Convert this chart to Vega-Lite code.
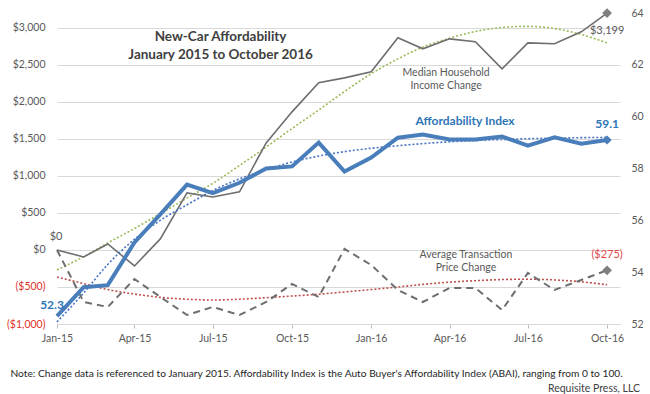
{
  "$schema": "https://vega.github.io/schema/vega-lite/v6.json",
  "width": 563,
  "height": 311,
  "autosize": {"type": "none"},
  "padding": {"left": 57, "top": 13, "right": 30, "bottom": 70},
  "background": "white",
  "config": {"view": {"stroke": null}, "font": "Lato", "text": {"font": "Lato"}},
  "title": {"text": "Requisite Press, LLC", "orient": "bottom", "anchor": "end", "frame": "group", "font": "Lato", "fontSize": 10.5, "fontWeight": "normal", "color": "#404040", "dx": 20, "offset": 6},
  "datasets": {
    "main": [
      {"date": "2015/01/01", "abai": 52.3, "income": 0, "atp": 0, "abai_trend": 52.08, "income_trend": -270, "atp_trend": -365},
      {"date": "2015/02/01", "abai": 53.42, "income": -95, "atp": -703, "abai_trend": 53.2, "income_trend": -90, "atp_trend": -455},
      {"date": "2015/03/01", "abai": 53.5, "income": 81, "atp": -770, "abai_trend": 54.3, "income_trend": 95, "atp_trend": -535},
      {"date": "2015/04/01", "abai": 55.15, "income": -216, "atp": -392, "abai_trend": 55.27, "income_trend": 290, "atp_trend": -595},
      {"date": "2015/05/01", "abai": 56.23, "income": 149, "atp": -635, "abai_trend": 56.0, "income_trend": 490, "atp_trend": -640},
      {"date": "2015/06/01", "abai": 57.38, "income": 770, "atp": -878, "abai_trend": 56.6, "income_trend": 700, "atp_trend": -665},
      {"date": "2015/07/01", "abai": 57.05, "income": 716, "atp": -770, "abai_trend": 57.15, "income_trend": 900, "atp_trend": -676},
      {"date": "2015/08/01", "abai": 57.45, "income": 784, "atp": -878, "abai_trend": 57.6, "income_trend": 1140, "atp_trend": -665},
      {"date": "2015/09/01", "abai": 58.0, "income": 1446, "atp": -703, "abai_trend": 57.95, "income_trend": 1390, "atp_trend": -645},
      {"date": "2015/10/01", "abai": 58.08, "income": 1865, "atp": -459, "abai_trend": 58.25, "income_trend": 1640, "atp_trend": -622},
      {"date": "2015/11/01", "abai": 59.0, "income": 2257, "atp": -635, "abai_trend": 58.48, "income_trend": 1890, "atp_trend": -598},
      {"date": "2015/12/01", "abai": 57.88, "income": 2324, "atp": 14, "abai_trend": 58.65, "income_trend": 2140, "atp_trend": -567},
      {"date": "2016/01/01", "abai": 58.42, "income": 2405, "atp": -203, "abai_trend": 58.78, "income_trend": 2380, "atp_trend": -535},
      {"date": "2016/02/01", "abai": 59.19, "income": 2865, "atp": -540, "abai_trend": 58.88, "income_trend": 2580, "atp_trend": -500},
      {"date": "2016/03/01", "abai": 59.31, "income": 2716, "atp": -703, "abai_trend": 58.96, "income_trend": 2740, "atp_trend": -465},
      {"date": "2016/04/01", "abai": 59.12, "income": 2851, "atp": -514, "abai_trend": 59.03, "income_trend": 2860, "atp_trend": -435},
      {"date": "2016/05/01", "abai": 59.12, "income": 2811, "atp": -514, "abai_trend": 59.08, "income_trend": 2950, "atp_trend": -415},
      {"date": "2016/06/01", "abai": 59.23, "income": 2446, "atp": -811, "abai_trend": 59.12, "income_trend": 3005, "atp_trend": -400},
      {"date": "2016/07/01", "abai": 58.88, "income": 2797, "atp": -311, "abai_trend": 59.15, "income_trend": 3020, "atp_trend": -395},
      {"date": "2016/08/01", "abai": 59.2, "income": 2784, "atp": -540, "abai_trend": 59.17, "income_trend": 2990, "atp_trend": -405},
      {"date": "2016/09/01", "abai": 58.96, "income": 2946, "atp": -405, "abai_trend": 59.19, "income_trend": 2910, "atp_trend": -430},
      {"date": "2016/10/01", "abai": 59.1, "income": 3199, "atp": -275, "abai_trend": 59.2, "income_trend": 2797, "atp_trend": -470}
    ]
  },
  "data": {"name": "main"},
  "encoding": {
    "x": {
      "field": "date", "type": "temporal",
      "scale": {"domain": [{"year": 2015, "month": 1, "date": 1}, {"year": 2016, "month": 10, "date": 16}]},
      "axis": {
        "format": "%b-%y", "tickCount": {"interval": "month", "step": 3}, "grid": false,
        "domainColor": "#D9D9D9", "tickColor": "#BFBFBF", "tickSize": 4, "labelFlush": false, "labelOverlap": false,
        "labelColor": "#595959", "labelFont": "Lato", "labelFontSize": 10.5, "labelPadding": 5,
        "title": "Note: Change data is referenced to January 2015. Affordability Index is the Auto Buyer's Affordability Index (ABAI), ranging from 0 to 100.",
        "titleX": -47, "titleY": 49, "titleAnchor": "start", "titleAlign": "left", "titleBaseline": "middle",
        "titleFont": "Lato", "titleFontSize": 10.2, "titleFontWeight": "normal", "titleColor": "#262626"
      }
    }
  },
  "layer": [
    {
      "mark": {"type": "line", "color": "#9BBB59", "strokeWidth": 1.6, "strokeDash": [2, 2], "interpolate": "monotone"},
      "encoding": {
        "y": {
          "field": "income_trend", "type": "quantitative",
          "scale": {"domain": [-1000, 3200], "nice": false, "zero": false},
          "axis": {
            "orient": "left", "title": null, "values": [-1000, -500, 0, 500, 1000, 1500, 2000, 2500, 3000],
            "format": "($,.0f", "grid": true, "gridColor": "#D9D9D9", "gridWidth": 1, "domain": false, "ticks": false,
            "labelPadding": 12, "labelFont": "Lato", "labelFontSize": 10.5,
            "labelColor": {"condition": {"test": "datum.value < 0", "value": "#E0302A"}, "value": "#595959"}
          }
        }
      }
    },
    {
      "mark": {"type": "line", "color": "#C0504D", "strokeWidth": 1.6, "strokeDash": [2, 2], "interpolate": "monotone"},
      "encoding": {
        "y": {"field": "atp_trend", "type": "quantitative", "scale": {"domain": [-1000, 3200], "nice": false, "zero": false}, "axis": null}
      }
    },
    {
      "mark": {"type": "line", "color": "#6E6E6E", "strokeWidth": 1.6},
      "encoding": {
        "y": {"field": "income", "type": "quantitative", "scale": {"domain": [-1000, 3200], "nice": false, "zero": false}, "axis": null}
      }
    },
    {
      "mark": {"type": "line", "color": "#6E6E6E", "strokeWidth": 2, "strokeDash": [7, 5]},
      "encoding": {
        "y": {"field": "atp", "type": "quantitative", "scale": {"domain": [-1000, 3200], "nice": false, "zero": false}, "axis": null}
      }
    },
    {
      "mark": {"type": "line", "color": "#4472C4", "strokeWidth": 1.6, "strokeDash": [2, 2], "interpolate": "monotone"},
      "encoding": {
        "y": {
          "field": "abai_trend", "type": "quantitative",
          "scale": {"domain": [52, 64], "nice": false, "zero": false},
          "axis": {
            "orient": "right", "title": null, "values": [52, 54, 56, 58, 60, 62, 64], "grid": false,
            "domain": false, "ticks": false, "labelPadding": 11, "labelFont": "Lato", "labelFontSize": 10.5, "labelColor": "#595959"
          }
        }
      }
    },
    {
      "mark": {"type": "line", "color": "#4A7EBB", "strokeWidth": 4},
      "encoding": {
        "y": {"field": "abai", "type": "quantitative", "scale": {"domain": [52, 64], "nice": false, "zero": false}, "axis": null}
      }
    },
    {
      "transform": [{"filter": "year(datum.date) == 2016 && month(datum.date) == 9"}],
      "mark": {"type": "point", "shape": "diamond", "filled": true, "size": 95, "color": "#7F7F7F", "opacity": 1},
      "encoding": {
        "y": {"field": "income", "type": "quantitative", "scale": {"domain": [-1000, 3200], "nice": false, "zero": false}, "axis": null}
      }
    },
    {
      "transform": [{"filter": "year(datum.date) == 2016 && month(datum.date) == 9"}],
      "mark": {"type": "point", "shape": "diamond", "filled": true, "size": 95, "color": "#7F7F7F", "opacity": 1},
      "encoding": {
        "y": {"field": "atp", "type": "quantitative", "scale": {"domain": [-1000, 3200], "nice": false, "zero": false}, "axis": null}
      }
    },
    {
      "transform": [{"filter": "year(datum.date) == 2016 && month(datum.date) == 9"}],
      "mark": {"type": "point", "shape": "diamond", "filled": true, "size": 85, "color": "#4A7EBB", "opacity": 1},
      "encoding": {
        "y": {"field": "abai", "type": "quantitative", "scale": {"domain": [52, 64], "nice": false, "zero": false}, "axis": null}
      }
    },
    {
      "transform": [{"filter": "year(datum.date) == 2016 && month(datum.date) == 9"}],
      "mark": {"type": "text", "dy": 18, "fontSize": 11, "color": "#595959"},
      "encoding": {
        "y": {"field": "income", "type": "quantitative", "scale": {"domain": [-1000, 3200], "nice": false, "zero": false}, "axis": null},
        "text": {"field": "income", "type": "quantitative", "format": "($,.0f"}
      }
    },
    {
      "transform": [{"filter": "year(datum.date) == 2016 && month(datum.date) == 9"}],
      "mark": {"type": "text", "dy": -15, "fontSize": 11, "color": "#E04848"},
      "encoding": {
        "y": {"field": "atp", "type": "quantitative", "scale": {"domain": [-1000, 3200], "nice": false, "zero": false}, "axis": null},
        "text": {"field": "atp", "type": "quantitative", "format": "($,.0f"}
      }
    },
    {
      "transform": [{"filter": "year(datum.date) == 2015 && month(datum.date) == 0"}],
      "mark": {"type": "text", "dy": -13, "dx": -1, "fontSize": 11, "color": "#595959"},
      "encoding": {
        "y": {"field": "income", "type": "quantitative", "scale": {"domain": [-1000, 3200], "nice": false, "zero": false}, "axis": null},
        "text": {"field": "income", "type": "quantitative", "format": "($,.0f"}
      }
    },
    {
      "transform": [{"filter": "year(datum.date) == 2016 && month(datum.date) == 9"}],
      "mark": {"type": "text", "dy": -16, "fontSize": 12, "fontWeight": "bold", "color": "#2E75B6"},
      "encoding": {
        "y": {"field": "abai", "type": "quantitative", "scale": {"domain": [52, 64], "nice": false, "zero": false}, "axis": null},
        "text": {"field": "abai", "type": "quantitative", "format": ".1f"}
      }
    },
    {
      "transform": [{"filter": "year(datum.date) == 2015 && month(datum.date) == 0"}],
      "mark": {"type": "text", "dy": -11, "dx": -5, "fontSize": 12, "fontWeight": "bold", "color": "#2E75B6"},
      "encoding": {
        "y": {"field": "abai", "type": "quantitative", "scale": {"domain": [52, 64], "nice": false, "zero": false}, "axis": null},
        "text": {"field": "abai", "type": "quantitative", "format": ".1f"}
      }
    },
    {
      "data": {"values": [{"date": "2015/07/10", "v": 2878, "label": "New-Car Affordability\nJanuary 2015 to October 2016"}]},
      "mark": {"type": "text", "fontSize": 13.5, "fontWeight": "bold", "color": "#404040", "lineBreak": "\n", "lineHeight": 18, "baseline": "middle"},
      "encoding": {
        "y": {"field": "v", "type": "quantitative", "scale": {"domain": [-1000, 3200], "nice": false, "zero": false}, "axis": null},
        "text": {"field": "label"}
      }
    },
    {
      "data": {"values": [
        {"date": "2016/03/28", "v": 2385, "label": "Median Household\nIncome Change"},
        {"date": "2016/04/20", "v": -74, "label": "Average Transaction\nPrice Change"}
      ]},
      "mark": {"type": "text", "fontSize": 10.5, "color": "#595959", "lineBreak": "\n", "lineHeight": 13, "baseline": "middle"},
      "encoding": {
        "y": {"field": "v", "type": "quantitative", "scale": {"domain": [-1000, 3200], "nice": false, "zero": false}, "axis": null},
        "text": {"field": "label"}
      }
    },
    {
      "data": {"values": [{"date": "2016/04/19", "v": 59.85, "label": "Affordability Index"}]},
      "mark": {"type": "text", "fontSize": 12, "fontWeight": "bold", "color": "#2E75B6", "baseline": "middle"},
      "encoding": {
        "y": {"field": "v", "type": "quantitative", "scale": {"domain": [52, 64], "nice": false, "zero": false}, "axis": null},
        "text": {"field": "label"}
      }
    }
  ],
  "resolve": {"scale": {"y": "independent"}}
}
